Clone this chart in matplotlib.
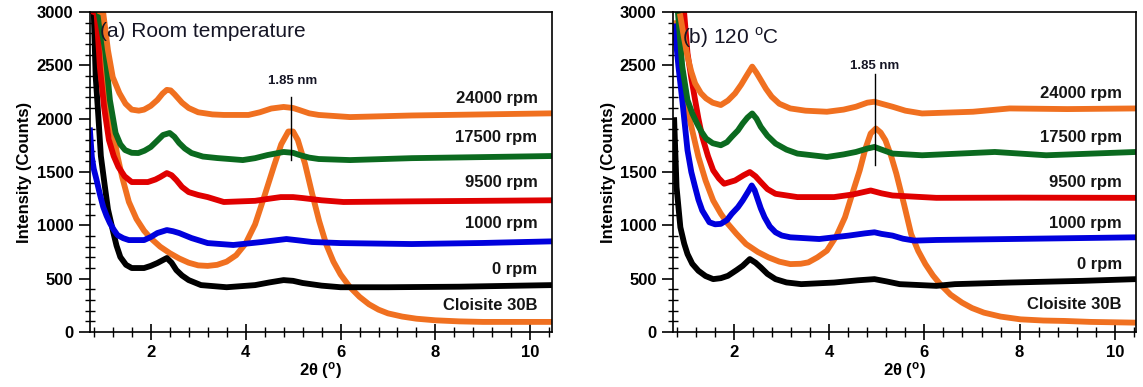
import matplotlib
matplotlib.use('Agg')
import matplotlib.pyplot as plt
from matplotlib.ticker import MultipleLocator, AutoMinorLocator

plt.rcParams['font.family'] = ['Liberation Sans', 'DejaVu Sans']
plt.rcParams['mathtext.fontset'] = 'custom'
plt.rcParams['mathtext.bf'] = 'Liberation Sans:bold'
plt.rcParams['mathtext.rm'] = 'Liberation Sans'

# series names (top to bottom) and colours
labels = ['24000 rpm', '17500 rpm', '9500 rpm', '1000 rpm', '0 rpm', 'Cloisite 30B']
colors = ['#f07020', '#0b6a1f', '#e00000', '#0000dd', '#000000', '#f07020']

# ---- (a) room temperature ----
a_x = {
    '24000 rpm': [0.95, 1.0, 1.1, 1.2, 1.34, 1.47, 1.6, 1.75, 1.86, 2.0, 2.14, 2.25, 2.34, 2.42, 2.5, 2.58, 2.66, 2.8, 3.0, 3.3, 3.54, 4.06, 4.3, 4.54, 4.8, 5.0, 5.14, 5.34, 5.54, 6.2, 7.5, 9.0, 10.45],
    '17500 rpm': [0.9, 0.94, 1.04, 1.14, 1.26, 1.36, 1.46, 1.6, 1.74, 1.87, 2.0, 2.13, 2.26, 2.4, 2.5, 2.6, 2.72, 2.86, 3.1, 3.4, 3.94, 4.2, 4.46, 4.8, 5.0, 5.14, 5.34, 5.54, 6.2, 7.5, 9.0, 10.45],
    '9500 rpm': [0.8, 0.86, 0.93, 1.02, 1.12, 1.22, 1.32, 1.45, 1.6, 1.94, 2.1, 2.2, 2.34, 2.44, 2.54, 2.66, 2.8, 3.0, 3.2, 3.54, 4.2, 4.5, 4.74, 5.0, 5.2, 5.6, 6.06, 7.5, 9.0, 10.45],
    '1000 rpm': [0.72, 0.76, 0.8, 0.86, 0.93, 1.0, 1.07, 1.14, 1.22, 1.3, 1.42, 1.54, 1.86, 2.0, 2.14, 2.34, 2.47, 2.6, 2.86, 3.2, 3.74, 4.34, 4.86, 5.1, 5.4, 6.0, 7.5, 9.0, 10.45],
    '0 rpm': [0.8, 0.84, 0.9, 0.95, 1.03, 1.1, 1.2, 1.28, 1.36, 1.48, 1.6, 1.86, 2.0, 2.14, 2.34, 2.44, 2.54, 2.66, 2.8, 3.06, 3.6, 4.2, 4.5, 4.8, 5.0, 5.2, 5.6, 6.0, 7.0, 8.5, 10.45],
    'Cloisite 30B': [0.81, 0.9, 1.0, 1.1, 1.2, 1.3, 1.4, 1.54, 1.7, 1.86, 2.0, 2.2, 2.4, 2.6, 2.8, 3.0, 3.2, 3.4, 3.6, 3.8, 4.0, 4.2, 4.4, 4.6, 4.75, 4.9, 5.0, 5.1, 5.25, 5.4, 5.55, 5.7, 5.85, 6.0, 6.2, 6.4, 6.6, 6.8, 7.0, 7.3, 7.6, 8.0, 8.5, 9.0, 10.45],
}
a_y = {
    '24000 rpm': [3000, 2990, 2640, 2390, 2240, 2140, 2085, 2075, 2085, 2120, 2175, 2235, 2270, 2265, 2230, 2190, 2150, 2100, 2060, 2040, 2035, 2035, 2060, 2095, 2110, 2100, 2080, 2050, 2035, 2015, 2030, 2040, 2050],
    '17500 rpm': [3000, 2900, 2640, 2175, 1866, 1760, 1706, 1680, 1678, 1700, 1734, 1790, 1847, 1866, 1830, 1772, 1720, 1678, 1645, 1631, 1612, 1630, 1659, 1688, 1680, 1659, 1635, 1622, 1612, 1630, 1640, 1650],
    '9500 rpm': [3000, 2990, 2480, 2100, 1800, 1650, 1547, 1460, 1406, 1406, 1430, 1453, 1490, 1470, 1425, 1360, 1312, 1285, 1265, 1219, 1230, 1250, 1265, 1265, 1256, 1235, 1219, 1225, 1230, 1235],
    '1000 rpm': [1890, 1640, 1530, 1425, 1290, 1172, 1090, 1022, 960, 909, 880, 862, 862, 890, 928, 956, 945, 928, 881, 834, 816, 844, 872, 860, 844, 834, 825, 835, 850],
    '0 rpm': [3000, 2400, 2000, 1650, 1378, 1150, 956, 810, 703, 630, 600, 600, 620, 647, 694, 650, 581, 530, 487, 440, 420, 440, 465, 487, 480, 460, 435, 420, 420, 425, 440],
    'Cloisite 30B': [3000, 2750, 2450, 2150, 1900, 1650, 1450, 1220, 1060, 950, 880, 800, 740, 690, 650, 625, 620, 630, 660, 720, 830, 1010, 1280, 1560, 1760, 1880, 1880, 1800, 1580, 1300, 1040, 820, 660, 540, 420, 330, 260, 210, 175, 145, 125, 110, 100, 95, 95],
}
a_text_y = [2190, 1823, 1406, 1013, 590, 245]

# ---- (b) 120 C ----
b_x = {
    '24000 rpm': [0.87, 0.95, 1.02, 1.1, 1.18, 1.3, 1.41, 1.55, 1.72, 1.87, 2.02, 2.15, 2.25, 2.38, 2.47, 2.56, 2.67, 2.79, 2.95, 3.18, 3.5, 3.95, 4.3, 4.56, 4.8, 4.95, 5.1, 5.33, 5.6, 5.95, 7.02, 7.79, 9.0, 10.45],
    '17500 rpm': [0.82, 0.91, 1.02, 1.12, 1.22, 1.31, 1.41, 1.55, 1.72, 1.85, 1.95, 2.08, 2.18, 2.28, 2.38, 2.47, 2.56, 2.7, 2.87, 3.1, 3.33, 3.95, 4.3, 4.56, 4.8, 4.95, 5.1, 5.33, 5.95, 7.48, 8.56, 10.45],
    '9500 rpm': [0.95, 1.02, 1.1, 1.18, 1.25, 1.33, 1.45, 1.56, 1.68, 1.79, 2.02, 2.2, 2.33, 2.45, 2.56, 2.7, 2.87, 3.33, 4.1, 4.5, 4.87, 5.1, 5.33, 6.25, 8.0, 10.45],
    '1000 rpm': [0.75, 0.83, 0.91, 1.02, 1.1, 1.18, 1.25, 1.33, 1.48, 1.6, 1.72, 1.85, 1.95, 2.08, 2.18, 2.3, 2.37, 2.43, 2.48, 2.56, 2.64, 2.75, 2.87, 3.0, 3.18, 3.79, 4.41, 4.75, 4.95, 5.1, 5.33, 5.55, 5.79, 6.25, 7.79, 10.45],
    '0 rpm': [0.74, 0.79, 0.87, 0.95, 1.02, 1.12, 1.25, 1.4, 1.56, 1.72, 1.87, 2.05, 2.18, 2.33, 2.45, 2.56, 2.7, 2.87, 3.1, 3.41, 4.1, 4.6, 4.95, 5.2, 5.48, 6.25, 6.64, 7.8, 9.33, 10.45],
    'Cloisite 30B': [0.79, 0.87, 1.02, 1.25, 1.4, 1.56, 1.72, 1.87, 2.05, 2.25, 2.5, 2.72, 2.95, 3.18, 3.4, 3.56, 3.75, 3.95, 4.15, 4.33, 4.5, 4.64, 4.76, 4.87, 4.98, 5.08, 5.18, 5.3, 5.41, 5.57, 5.72, 5.87, 6.02, 6.18, 6.33, 6.55, 6.79, 7.0, 7.25, 7.6, 8.02, 8.5, 8.95, 9.5, 10.45],
}
b_y = {
    '24000 rpm': [2960, 2750, 2583, 2440, 2331, 2240, 2190, 2150, 2128, 2170, 2237, 2320, 2394, 2488, 2430, 2363, 2280, 2206, 2140, 2096, 2075, 2065, 2085, 2112, 2150, 2159, 2140, 2112, 2075, 2049, 2065, 2096, 2090, 2096],
    '17500 rpm': [2990, 2488, 2175, 2050, 1955, 1880, 1814, 1770, 1751, 1780, 1830, 1890, 1955, 2010, 2049, 2000, 1924, 1840, 1767, 1710, 1673, 1641, 1665, 1688, 1720, 1735, 1710, 1673, 1657, 1688, 1657, 1688],
    '9500 rpm': [2990, 2614, 2380, 2175, 2000, 1830, 1650, 1516, 1440, 1390, 1421, 1470, 1500, 1460, 1406, 1340, 1296, 1265, 1265, 1290, 1327, 1300, 1280, 1258, 1260, 1258],
    '1000 rpm': [2865, 2488, 2175, 1704, 1500, 1359, 1240, 1139, 1029, 1010, 1014, 1050, 1108, 1170, 1233, 1320, 1374, 1330, 1265, 1160, 1076, 990, 935, 905, 888, 872, 904, 925, 935, 920, 904, 875, 857, 863, 872, 888],
    '0 rpm': [1986, 1359, 982, 830, 731, 640, 574, 525, 496, 505, 527, 580, 621, 684, 650, 606, 545, 496, 465, 449, 464, 485, 496, 475, 449, 433, 449, 464, 480, 496],
    'Cloisite 30B': [2896, 2488, 2080, 1641, 1420, 1233, 1110, 1014, 920, 825, 750, 700, 660, 637, 640, 653, 700, 763, 900, 1076, 1320, 1516, 1720, 1861, 1908, 1870, 1798, 1650, 1484, 1200, 919, 760, 637, 530, 449, 350, 276, 225, 182, 145, 119, 108, 104, 95, 88],
}
b_text_y = [2237, 1823, 1406, 1014, 637, 260]

fig = plt.figure(figsize=(11.43, 3.87), dpi=100)
ax1 = fig.add_axes([0.0787, 0.142, 0.404, 0.827])
ax2 = fig.add_axes([0.589, 0.142, 0.405, 0.827])


def setup(ax, xs, ys, text_y, title, title_xy, nm_xy, nm_line):
    # bottom curve first so the upper ones sit on top like in the figure
    for name, c in zip(labels[::-1], colors[::-1]):
        ax.plot(xs[name], ys[name], color=c, lw=4.2, solid_joinstyle='round', zorder=2)
    for name, ty in zip(labels, text_y):
        ax.text(10.15, ty, name, ha='right', va='center', fontsize=12,
                fontweight='bold', color='#151515')
    ax.text(title_xy[0], title_xy[1], title, ha='left', va='center',
            fontsize=15, color='#151525')
    ax.text(nm_xy[0], nm_xy[1], '1.85 nm', ha='center', va='center',
            fontsize=9.5, fontweight='bold', color='#151525')
    ax.plot([nm_line[0], nm_line[0]], [nm_line[1], nm_line[2]], color='black', lw=1.0, zorder=3)

    ax.set_xlim(0.72, 10.45)
    ax.set_ylim(0, 3000)
    ax.xaxis.set_major_locator(MultipleLocator(2))
    ax.xaxis.set_minor_locator(AutoMinorLocator(5))
    ax.yaxis.set_major_locator(MultipleLocator(500))
    ax.yaxis.set_minor_locator(MultipleLocator(100))
    ax.tick_params(axis='y', which='major', direction='out', length=8, width=1.2, labelsize=12, pad=4)
    ax.tick_params(axis='x', which='major', direction='inout', length=11, width=1.2, labelsize=12, pad=4)
    ax.tick_params(which='minor', direction='inout', length=6.5, width=1.0)
    for lab in ax.get_xticklabels() + ax.get_yticklabels():
        lab.set_fontweight('bold')
    for s in ax.spines.values():
        s.set_linewidth(1.2)
    ax.set_xlabel(r'2θ ($\mathbf{^{o}}$)', fontsize=12, fontweight='bold', labelpad=0)
    ax.set_ylabel('Intensity (Counts)', fontsize=12, fontweight='bold', labelpad=3)


setup(ax1, a_x, a_y, a_text_y, '(a) Room temperature', (0.93, 2820), (4.98, 2353), (4.96, 1616, 2206))
setup(ax2, b_x, b_y, b_text_y, r'(b) 120 $^{\mathrm{o}}$C', (0.91, 2755), (4.95, 2495), (4.96, 1569, 2419))

fig.savefig('out.png', dpi=100)
